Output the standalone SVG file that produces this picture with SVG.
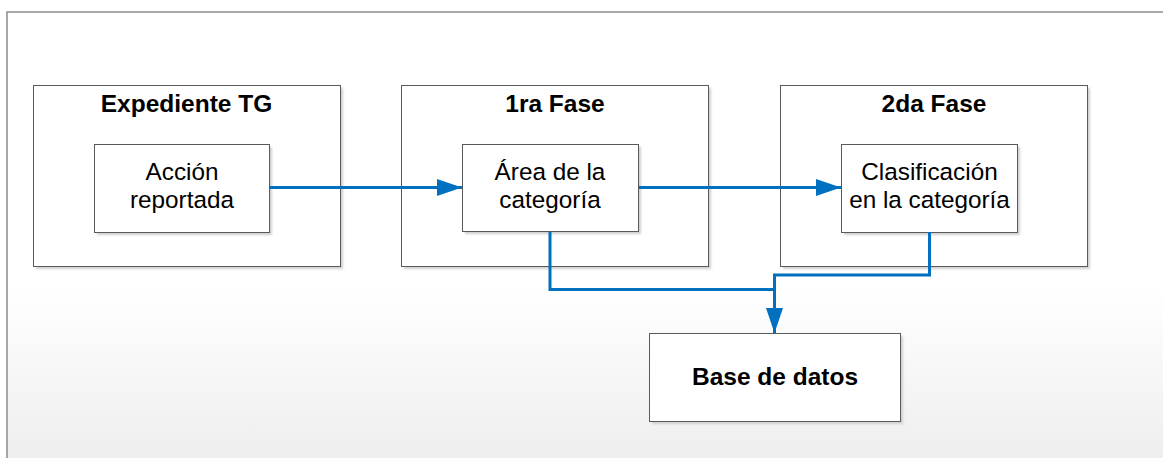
<svg xmlns="http://www.w3.org/2000/svg" width="1163" height="458" viewBox="0 0 1163 458">
  <defs>
    <linearGradient id="pageFill" gradientUnits="userSpaceOnUse" x1="0" y1="12" x2="0" y2="458">
      <stop offset="0" stop-color="#ffffff"/>
      <stop offset="0.62" stop-color="#ffffff"/>
      <stop offset="1" stop-color="#eeeeee"/>
    </linearGradient>
    <filter id="soft" x="-5%" y="-5%" width="110%" height="110%">
      <feGaussianBlur stdDeviation="0.8"/>
    </filter>
    <marker id="arrow" viewBox="0 0 25 17" refX="25" refY="8.5" markerWidth="25" markerHeight="17" markerUnits="userSpaceOnUse" orient="auto">
      <path d="M0,0 L25,8.5 L0,17 Z" fill="#0070c0"/>
    </marker>
  </defs>
  <style>
    .shadow { fill: #cfcfcf; filter: url(#soft); }
    .box { fill: #ffffff; stroke: #5a5a5a; stroke-width: 1; }
    .title { font-family: "Liberation Sans", Arial, sans-serif; font-size: 24.5px; font-weight: bold; fill: #000; text-anchor: middle; }
    .label { font-family: "Liberation Sans", Arial, sans-serif; font-size: 24.3px; fill: #000; text-anchor: middle; }
    .link { fill: none; stroke: #0070c0; stroke-width: 3; }
  </style>

  <!-- page background and frame -->
  <rect x="0" y="0" width="1163" height="458" fill="#ffffff"/>
  <rect x="7" y="12" width="1170" height="460" fill="url(#pageFill)" stroke="#8c8c8c" stroke-width="1.5"/>

  <!-- container: Expediente TG -->
  <g id="expediente">
    <rect class="shadow" x="36" y="88" width="307" height="181"/>
    <rect class="box" x="33.5" y="85.5" width="307" height="181"/>
    <text class="title" x="186.5" y="112">Expediente TG</text>
  </g>

  <!-- container: 1ra Fase -->
  <g id="fase1">
    <rect class="shadow" x="404" y="88" width="307" height="181"/>
    <rect class="box" x="401.5" y="85.5" width="307" height="181"/>
    <text class="title" x="555" y="112">1ra Fase</text>
  </g>

  <!-- container: 2da Fase -->
  <g id="fase2">
    <rect class="shadow" x="783" y="88" width="307" height="181"/>
    <rect class="box" x="780.5" y="85.5" width="307" height="181"/>
    <text class="title" x="934" y="112">2da Fase</text>
  </g>

  <!-- Acción reportada -->
  <g id="accion">
    <rect class="shadow" x="97" y="147" width="175" height="88"/>
    <rect class="box" x="94.5" y="144.5" width="175" height="88"/>
    <text class="label" x="182" y="180">Acción</text>
    <text class="label" x="182" y="208">reportada</text>
  </g>

  <!-- Área de la categoría -->
  <g id="area">
    <rect class="shadow" x="465" y="147" width="176" height="87"/>
    <rect class="box" x="462.5" y="144.5" width="176" height="87"/>
    <text class="label" x="550" y="180">Área de la</text>
    <text class="label" x="550" y="208">categoría</text>
  </g>

  <!-- Clasificación en la categoría -->
  <g id="clasificacion">
    <rect class="shadow" x="844" y="147" width="176" height="88"/>
    <rect class="box" x="841.5" y="144.5" width="176" height="88"/>
    <text class="label" x="929.5" y="180">Clasificación</text>
    <text class="label" x="929.5" y="208">en la categoría</text>
  </g>

  <!-- Base de datos -->
  <g id="base">
    <rect class="shadow" x="652" y="336" width="251" height="88"/>
    <rect class="box" x="649.5" y="333.5" width="251" height="88"/>
    <text class="title" x="775" y="385">Base de datos</text>
  </g>

  <!-- connectors -->
  <g id="connectors">
    <path class="link" d="M270,187.5 H462" marker-end="url(#arrow)"/>
    <path class="link" d="M639,187.5 H841" marker-end="url(#arrow)"/>
    <path class="link" d="M550,232 V289.5 H774.5"/>
    <path class="link" d="M929.5,232 V275 H774.5 V333" marker-end="url(#arrow)"/>
  </g>
</svg>
